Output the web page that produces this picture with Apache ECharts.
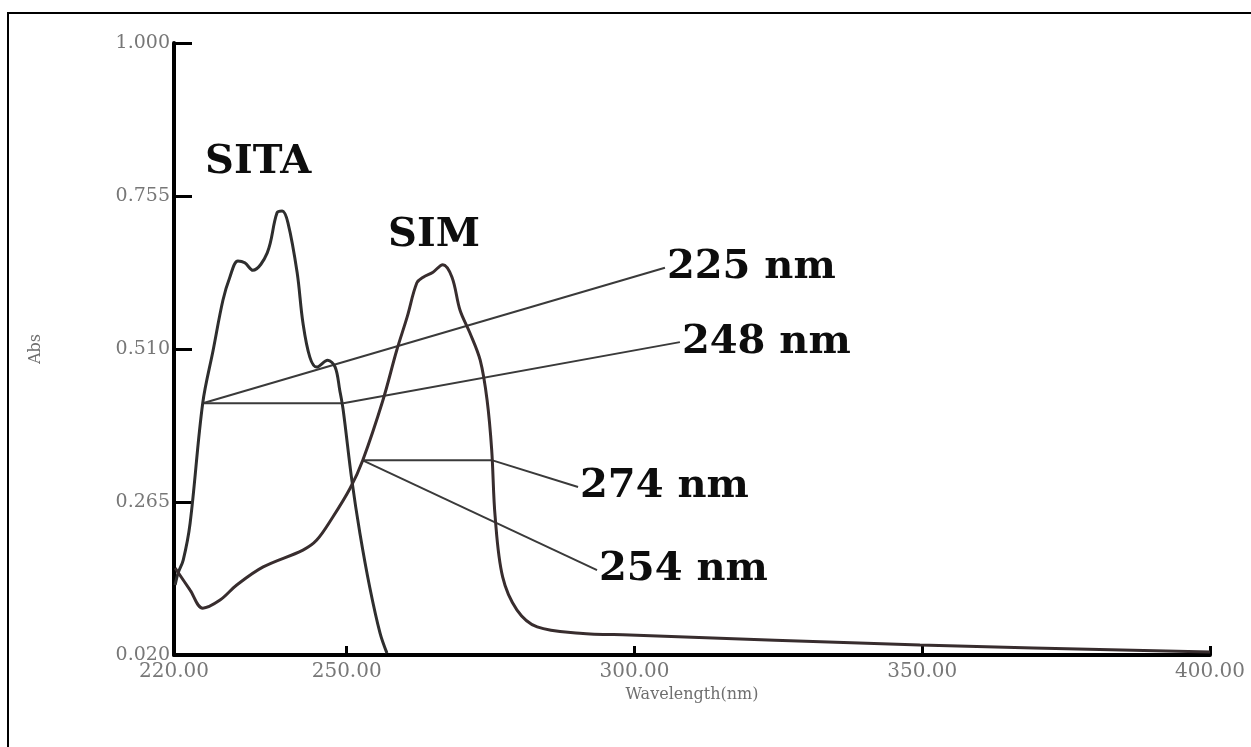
<!DOCTYPE html>
<html>
<head>
<meta charset="utf-8">
<script src="https://cdn.jsdelivr.net/npm/echarts@6/dist/echarts.min.js"></script>
<style>
  html, body { margin: 0; padding: 0; background: #fff; }
  #frame { position: absolute; left: 7px; top: 12px; width: 1260px; height: 760px; border-left: 2px solid #000; border-top: 2px solid #000; box-sizing: border-box; }
  #chart { position: absolute; left: 0; top: 0; width: 1251px; height: 747px; }
</style>
</head>
<body>
<div id="frame"></div>
<div id="chart"></div>
<script>
// ---- data ----
const xTickValues = [220, 250, 300, 350, 400];
const yTickValues = [0.020, 0.265, 0.510, 0.755, 1.000];

const sitaWavelength = [220.2, 220.7, 221.6, 222.8, 225.0, 226.8, 228.5, 229.7, 231.1, 232.3, 233.7, 236.2, 237.9, 238.8, 239.8, 241.4, 242.4, 243.6, 244.8, 246.7, 248.0, 248.8, 249.4, 250.9, 252.3, 254.0, 255.8, 257.0];
const sitaAbs        = [0.132, 0.151, 0.172, 0.231, 0.424, 0.508, 0.588, 0.625, 0.651, 0.648, 0.636, 0.664, 0.728, 0.731, 0.712, 0.632, 0.552, 0.497, 0.481, 0.492, 0.481, 0.444, 0.412, 0.300, 0.215, 0.129, 0.055, 0.023];

const simWavelength = [220.2, 222.8, 225.0, 228.0, 230.9, 235.5, 242.4, 244.8, 247.6, 250.6, 252.8, 256.3, 258.7, 260.5, 262.2, 263.3, 265.0, 266.7, 268.3, 269.7, 271.4, 273.2, 274.4, 275.2, 275.8, 277.1, 279.6, 283.1, 290.5, 299.2, 349.6, 400.0];
const simAbs        = [0.159, 0.124, 0.095, 0.108, 0.132, 0.161, 0.188, 0.204, 0.241, 0.287, 0.332, 0.428, 0.508, 0.561, 0.616, 0.625, 0.633, 0.645, 0.625, 0.572, 0.536, 0.492, 0.428, 0.348, 0.241, 0.145, 0.092, 0.065, 0.055, 0.052, 0.036, 0.025];

// annotation guide segments: [x1, y1, x2, y2] in data units
const guideSegments = [
  [225.0, 0.423, 249.4, 0.423],
  [225.0, 0.423, 305.3, 0.640],
  [249.4, 0.423, 307.9, 0.521],
  [252.7, 0.332, 275.2, 0.332],
  [275.2, 0.332, 290.2, 0.289],
  [252.7, 0.332, 293.5, 0.156]
];
const guideLabelNames = ['225 nm', '248 nm', '274 nm', '254 nm'];
const guideLabelX = [305.3, 307.9, 290.2, 293.5];
const guideLabelY = [0.640, 0.521, 0.289, 0.156];

const compoundNames = ['SITA', 'SIM'];
const compoundX = [225.4, 257.2];
const compoundY = [0.809, 0.691];

// ---- build ----
const zip = (xs, ys) => xs.map((x, i) => [x, ys[i]]);

const series = [
  {
    type: 'line', name: 'SITA', data: zip(sitaWavelength, sitaAbs),
    smooth: 0.35, showSymbol: false, symbol: 'none',
    lineStyle: { color: '#2e2e2e', width: 3 }, z: 3
  },
  {
    type: 'line', name: 'SIM', data: zip(simWavelength, simAbs),
    smooth: 0.35, showSymbol: false, symbol: 'none',
    lineStyle: { color: '#382d2e', width: 3 }, z: 3
  }
];

guideSegments.forEach((s) => {
  series.push({
    type: 'line', data: [[s[0], s[1]], [s[2], s[3]]],
    showSymbol: false, symbol: 'none', silent: true,
    lineStyle: { color: '#3a3a3a', width: 2 }, z: 2
  });
});

series.push({
  type: 'scatter', symbolSize: 0, silent: true,
  itemStyle: { opacity: 1 },
  data: guideLabelNames.map((n, i) => ({ name: n, value: [guideLabelX[i], guideLabelY[i]] })),
  label: {
    show: true, position: 'right', distance: 2, formatter: '{b}',
    fontFamily: 'DejaVu Serif', fontWeight: 'bold', fontSize: 40, color: '#0d0d0d'
  }
});

series.push({
  type: 'scatter', symbolSize: 0, silent: true,
  itemStyle: { opacity: 1 },
  data: compoundNames.map((n, i) => ({ name: n, value: [compoundX[i], compoundY[i]] })),
  label: {
    show: true, position: 'right', distance: 0, formatter: '{b}',
    fontFamily: 'DejaVu Serif', fontWeight: 'bold', fontSize: 40, color: '#0d0d0d'
  }
});

const chart = echarts.init(document.getElementById('chart'), null, { renderer: 'canvas' });
chart.setOption({
  backgroundColor: 'transparent',
  animation: false,
  grid: { left: 174, top: 43, right: 41, bottom: 92, containLabel: false },
  xAxis: {
    type: 'value', min: 220, max: 400,
    name: 'Wavelength(nm)', nameLocation: 'middle', nameGap: 31,
    nameTextStyle: { fontFamily: 'DejaVu Serif', fontSize: 16, color: '#6f6f6f' },
    axisLine: { show: true, onZero: false, lineStyle: { color: '#000', width: 4 } },
    axisTick: { show: true, inside: true, length: 9, customValues: [250, 300, 350, 400], lineStyle: { color: '#000', width: 3 } },
    axisLabel: { show: true, customValues: xTickValues, margin: 7, fontFamily: 'DejaVu Serif', fontSize: 20, color: '#777', formatter: (v) => v.toFixed(2) },
    splitLine: { show: false }
  },
  yAxis: {
    type: 'value', min: 0.020, max: 1.000,
    name: 'Abs', nameLocation: 'middle', nameGap: 130, nameRotate: 90,
    nameTextStyle: { fontFamily: 'DejaVu Serif', fontSize: 16, color: '#6f6f6f' },
    axisLine: { show: true, onZero: false, lineStyle: { color: '#000', width: 4 } },
    axisTick: { show: true, inside: true, length: 18, customValues: yTickValues, lineStyle: { color: '#000', width: 3 } },
    axisLabel: { show: true, customValues: yTickValues, margin: 4, fontFamily: 'DejaVu Serif', fontSize: 19, color: '#777', formatter: (v) => v.toFixed(3) },
    splitLine: { show: false }
  },
  series: series
});
</script>
</body>
</html>
